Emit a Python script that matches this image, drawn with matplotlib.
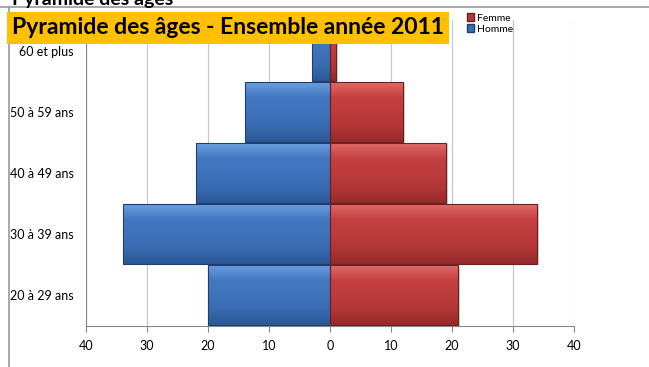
import numpy as np
import matplotlib.pyplot as plt
from matplotlib.colors import LinearSegmentedColormap
from matplotlib.patches import Patch, Rectangle

# Effectifs par tranche d'âge (du bas vers le haut)
tranches = ['20 à 29 ans', '30 à 39 ans', '40 à 49 ans', '50 à 59 ans', '60 et plus']
hommes = [20, 34, 22, 14, 3]
femmes = [21, 34, 19, 12, 1]

bleu = LinearSegmentedColormap.from_list('bleu', ['#2b5897', '#386bb0', '#3f74bd', '#4378c2', '#6a9ee0'])
rouge = LinearSegmentedColormap.from_list('rouge', ['#952a2a', '#b23636', '#bd3c3c', '#c54040', '#e06a6a'])
grad = np.linspace(0, 1, 64).reshape(-1, 1)

fig = plt.figure(figsize=(6.49, 3.67), dpi=100)
ax = fig.add_axes([0.1325, 0.1117, 0.7519, 0.8338])

h = 0.98


def barre(x0, x1, y, cmap, bord):
    # ombre portée légère
    ax.add_patch(Rectangle((x0 + 0.3, y - h / 2 - 0.02), x1 - x0, h, color='#808080', alpha=0.35, zorder=1.5, lw=0))
    ax.imshow(grad, cmap=cmap, extent=[x0, x1, y - h / 2, y + h / 2], aspect='auto', origin='lower', zorder=2)
    ax.add_patch(Rectangle((x0, y - h / 2), x1 - x0, h, fill=False, ec=bord, lw=0.8, zorder=3))


for i, (hm, fm) in enumerate(zip(hommes, femmes)):
    barre(-hm, 0, i, bleu, '#1f3f6e')
    barre(0, fm, i, rouge, '#6e1f1f')

ax.set_xlim(-40, 40)
ax.set_ylim(-0.5, len(tranches) - 0.5)
ax.set_xticks(range(-40, 41, 10))
ax.set_xticklabels([str(abs(v)) for v in range(-40, 41, 10)], fontsize=9, family='Lato')
ax.set_yticks(range(len(tranches)))
ax.set_yticklabels(tranches, fontsize=9, family='Lato')
ax.tick_params(axis='y', length=0, pad=9)
ax.tick_params(axis='x', length=4, color='#888888', pad=6)
ax.grid(axis='x', color='#c8c8c8', lw=0.9, zorder=0)
ax.set_axisbelow(True)
for s in ['top', 'right']:
    ax.spines[s].set_visible(False)
for s in ['left', 'bottom']:
    ax.spines[s].set_color('#888888')

leg = ax.legend(handles=[Patch(fc='#b53838', ec='#6e1f1f', label='Femme'),
                         Patch(fc='#3a6db3', ec='#1f3f6e', label='Homme')],
                loc='upper left', bbox_to_anchor=(0.772, 1.035), frameon=False,
                handlelength=0.7, handleheight=0.7, handletextpad=0.3,
                labelspacing=0.15, borderaxespad=0, prop={'family': 'Lato', 'size': 7.5})

# cadre de la zone de graphique
fig.add_artist(plt.Line2D([0, 1], [1 - 7 / 367, 1 - 7 / 367], color='#9a9a9a', lw=1.2))
fig.add_artist(plt.Line2D([9 / 649, 9 / 649], [0, 1 - 7 / 367], color='#9a9a9a', lw=1.2))

fig.text(12 / 649, 1.0, 'Pyramide des âges', fontsize=14, fontweight='bold', family='Lato', va='center')
fig.text(12 / 649, 1 - 28 / 367, 'Pyramide des âges - Ensemble année 2011', fontsize=16.5,
         fontweight='bold', family='Lato', va='center', ha='left', zorder=10,
         bbox=dict(boxstyle='square,pad=0.22', fc='#ffc000', ec='none'))

fig.savefig('out.png', dpi=100)
